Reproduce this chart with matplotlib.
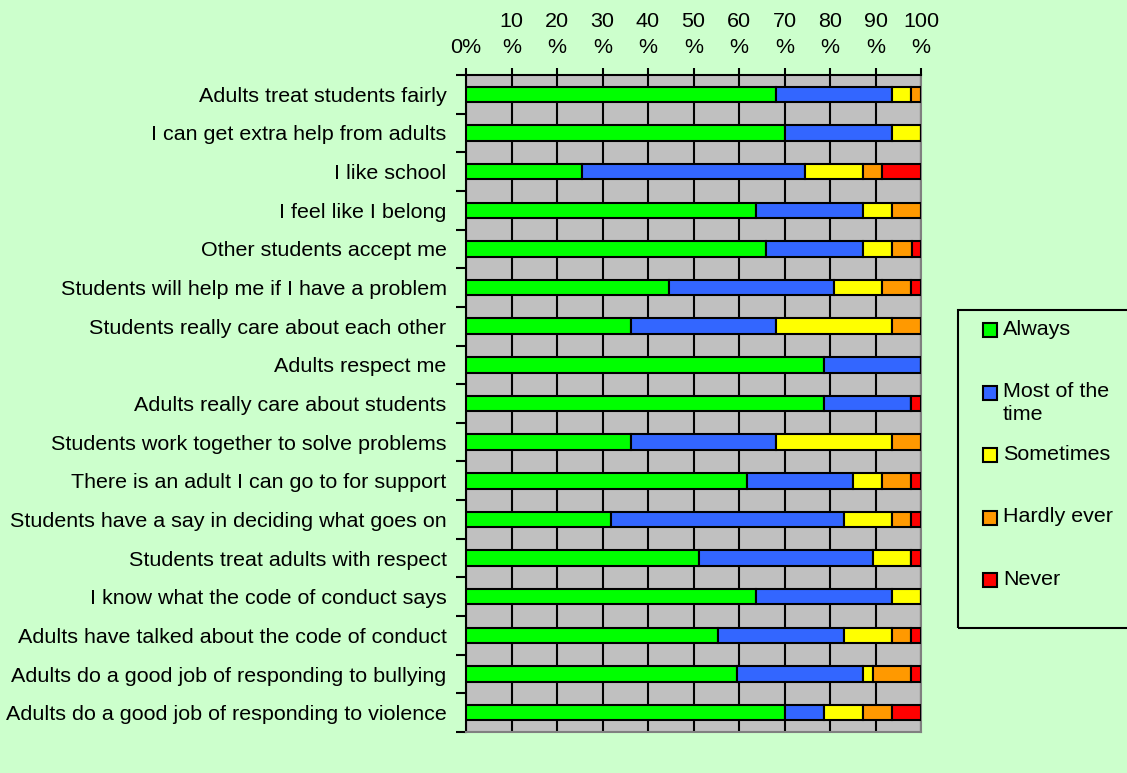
import numpy as np
import matplotlib.pyplot as plt
from matplotlib.patches import Rectangle

plt.rcParams['font.family'] = ['Liberation Sans', 'DejaVu Sans']

questions = [
    'Adults treat students fairly',
    'I can get extra help from adults',
    'I like school',
    'I feel like I belong',
    'Other students accept me',
    'Students will help me if I have a problem',
    'Students really care about each other',
    'Adults respect me',
    'Adults really care about students',
    'Students work together to solve problems',
    'There is an adult I can go to for support',
    'Students have a say in deciding what goes on',
    'Students treat adults with respect',
    'I know what the code of conduct says',
    'Adults have talked about the code of conduct',
    'Adults do a good job of responding to bullying',
    'Adults do a good job of responding to violence',
]

# percent of answers per question
always    = [68.1, 70.2, 25.5, 63.8, 66.0, 44.7, 36.2, 78.7, 78.7, 36.2, 61.7, 31.9, 51.1, 63.8, 55.3, 59.6, 70.2]
most      = [25.5, 23.4, 48.9, 23.4, 21.3, 36.2, 31.9, 21.3, 19.1, 31.9, 23.4, 51.1, 38.3, 29.8, 27.7, 27.7, 8.5]
sometimes = [4.3, 6.4, 12.8, 6.4, 6.4, 10.6, 25.5, 0.0, 0.0, 25.5, 6.4, 10.6, 8.5, 6.4, 10.6, 2.1, 8.5]
hardly    = [2.1, 0.0, 4.3, 6.4, 4.3, 6.4, 6.4, 0.0, 0.0, 6.4, 6.4, 4.3, 0.0, 0.0, 4.3, 8.5, 6.4]
never     = [0.0, 0.0, 8.5, 0.0, 2.1, 2.1, 0.0, 0.0, 2.1, 0.0, 2.1, 2.1, 2.1, 0.0, 2.1, 2.1, 6.4]

series_names = ['Always', 'Most of the\ntime', 'Sometimes', 'Hardly ever', 'Never']
series_colors = ['#00FF00', '#3366FF', '#FFFF00', '#FF9900', '#FF0000']
xticks = [0, 10, 20, 30, 40, 50, 60, 70, 80, 90, 100]
xtick_labels = ['0%'] + ['%d\n%%' % t for t in xticks[1:]]

bg = '#CCFFCC'
fs = 15.45
W, H = 1127, 773
fig = plt.figure(figsize=(W / 100, H / 100), dpi=100, facecolor=bg)
ax = fig.add_axes([466 / W, 1 - 732 / H, 455 / W, 657 / H])
ax.set_facecolor('#C0C0C0')

y = np.arange(len(questions))
left = np.zeros(len(questions))
for vals, name, col in zip([always, most, sometimes, hardly, never], series_names, series_colors):
    vals = np.array(vals)
    ax.barh(y, vals, left=left, height=0.4, color=col, edgecolor='black',
            linewidth=1.5, zorder=3, label=name)
    left = left + vals

ax.set_xlim(0, 100)
ax.set_ylim(len(questions) - 0.5, -0.5)

# vertical grid lines
ax.set_xticks(xticks)
ax.xaxis.grid(True, color='black', linewidth=1.5, zorder=1)
ax.set_axisbelow(True)

ax.xaxis.tick_top()
ax.set_xticklabels(xtick_labels, fontsize=fs, linespacing=1.45)
ax.tick_params(axis='x', direction='out', length=5, width=1.5, pad=8)

ax.set_yticks(y)
ax.set_yticklabels(questions, fontsize=fs)
ax.set_yticks(np.arange(len(questions) + 1) - 0.5, minor=True)
ax.tick_params(axis='y', which='major', length=0, pad=14)
ax.tick_params(axis='y', which='minor', direction='out', length=7, width=1.5)

ax.spines['top'].set_linewidth(1.5)
ax.spines['left'].set_linewidth(1.5)
ax.spines['right'].set_color('#808080')
ax.spines['bottom'].set_color('#808080')
ax.spines['right'].set_linewidth(1.5)
ax.spines['bottom'].set_linewidth(1.5)

# legend box on the right
fig.patches.append(Rectangle((958 / W, 1 - 628 / H), (W - 958 + 5) / W, 318 / H,
                             transform=fig.transFigure, facecolor='none',
                             edgecolor='black', linewidth=1.5, clip_on=False))
for i, (name, col) in enumerate(zip(series_names, series_colors)):
    cy = 330 + i * 62.5
    fig.patches.append(Rectangle((983 / W, 1 - (cy + 7) / H), 14 / W, 14 / H,
                                 transform=fig.transFigure, facecolor=col,
                                 edgecolor='black', linewidth=1.5))
    fig.text(1003 / W, 1 - (cy - 10) / H, name, fontsize=fs, va='top', ha='left',
             linespacing=1.25)

fig.savefig('out.png', dpi=100, facecolor=bg)
